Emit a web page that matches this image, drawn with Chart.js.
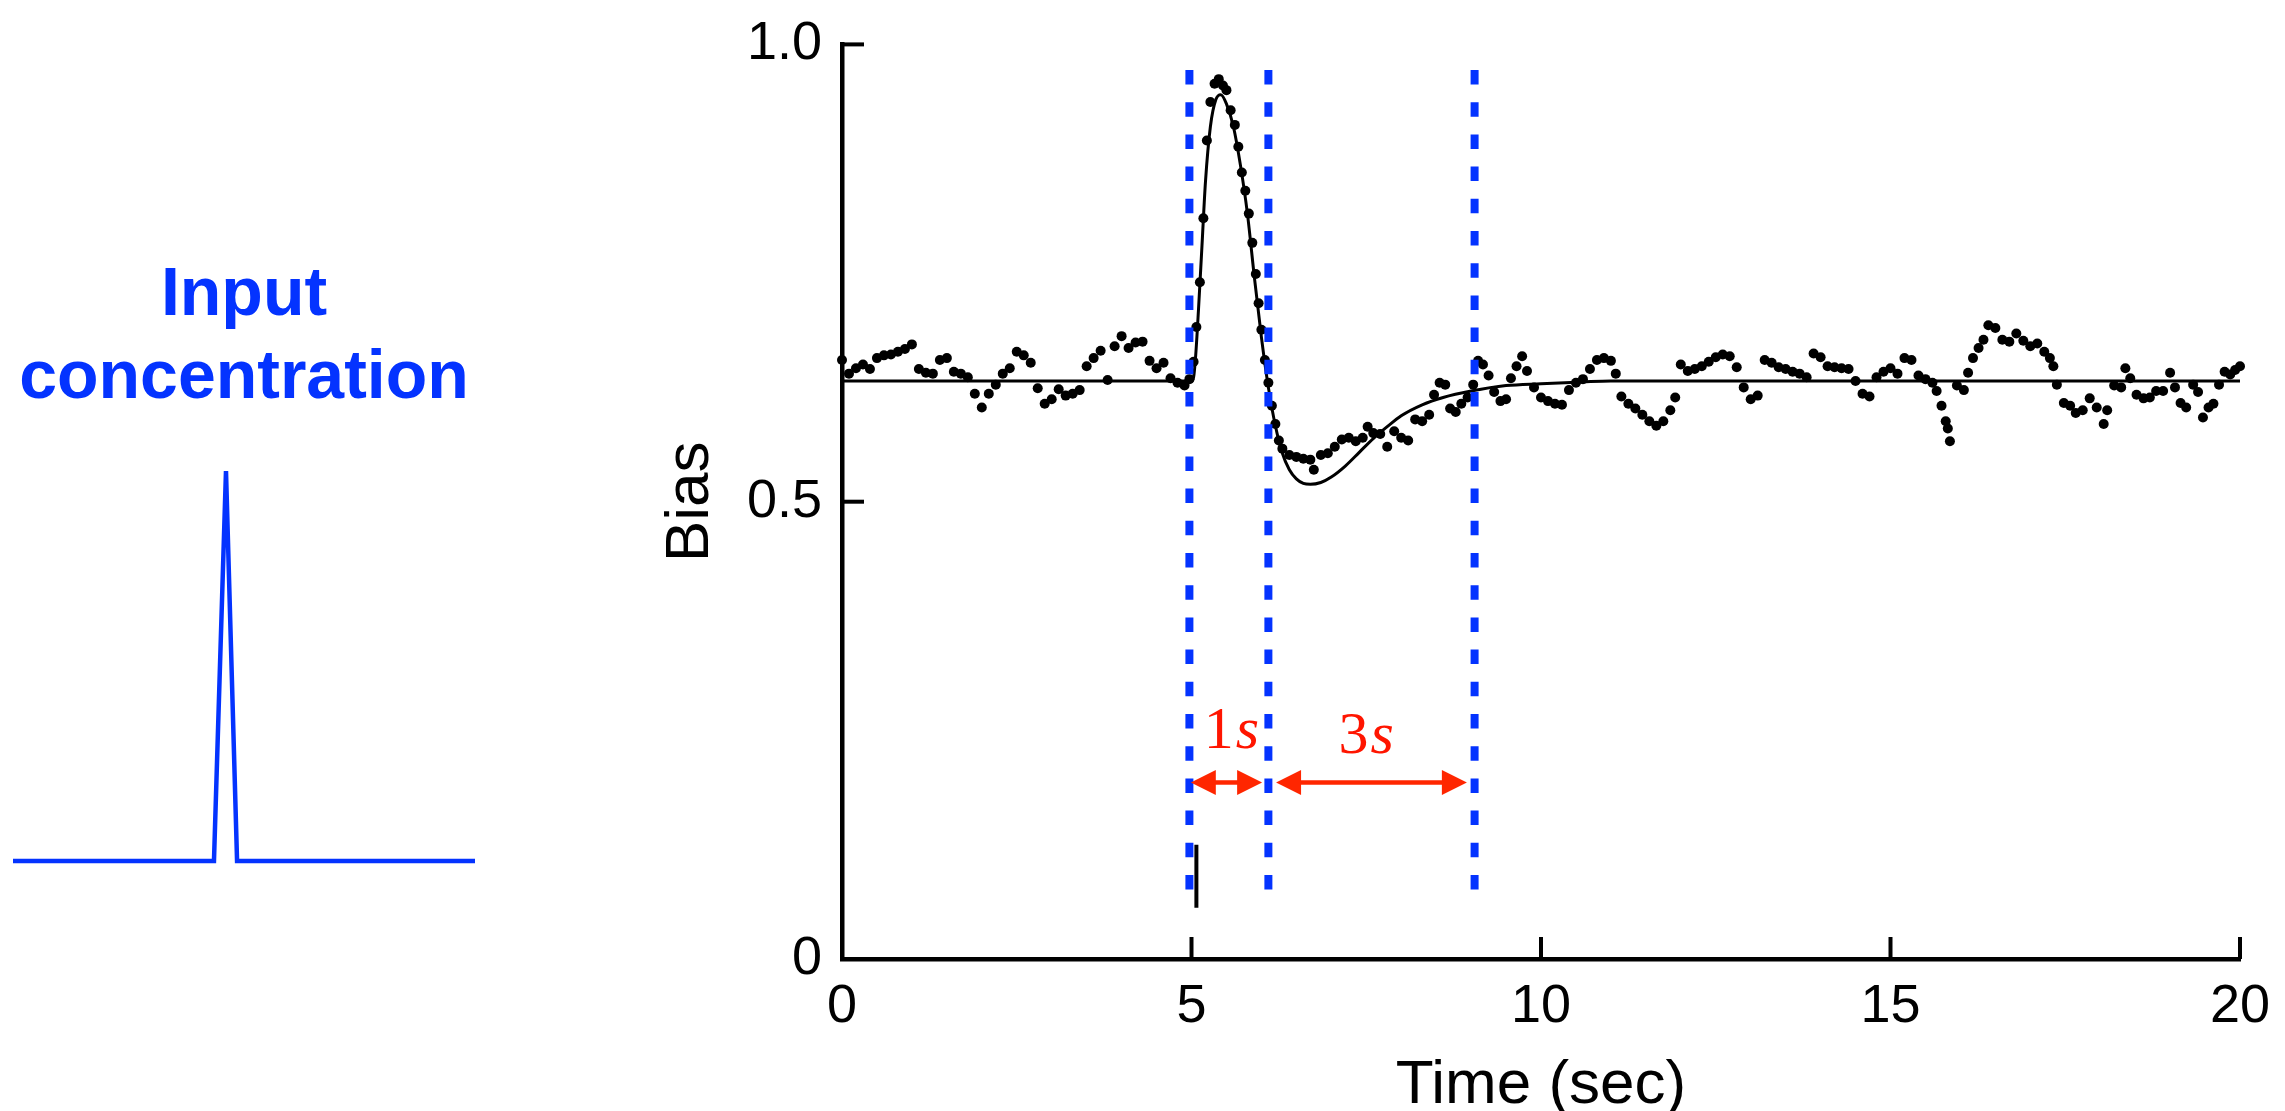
<!DOCTYPE html>
<html><head><meta charset="utf-8">
<script src="https://cdn.jsdelivr.net/npm/chart.js@4.4.1/dist/chart.umd.min.js"></script>
<style>
html,body{margin:0;padding:0;background:#fff;overflow:hidden;}
#wrap{position:relative;width:2285px;height:1111px;background:#fff;}
#main{position:absolute;left:0;top:0;}
#inputChart{position:absolute;left:0;top:0;}
#inputLabel{position:absolute;left:13px;width:462px;top:250px;text-align:center;font-family:'Liberation Sans',Arial,sans-serif;font-weight:bold;font-size:68px;line-height:83px;color:#0433ff;}
</style></head><body>
<div id="wrap">
<canvas id="main" width="2285" height="1111"></canvas>
<div id="inputLabel">Input<br>concentration</div>
<canvas id="inputChart" width="500" height="900"></canvas>
</div>
<script>
// ---- measured data (time in s, bias) ----
const dotTime = [0.00,0.10,0.20,0.30,0.40,0.50,0.60,0.70,0.80,0.90,1.00,1.10,1.20,1.30,1.40,1.50,1.60,1.70,1.80,1.90,
2.00,2.10,2.20,2.30,2.40,2.50,2.60,2.70,2.80,2.90,3.00,3.10,3.20,3.30,3.40,3.50,3.60,3.70,3.80,3.90,
4.00,4.10,4.20,4.30,4.40,4.50,4.60,4.70,4.80,4.90,4.97,5.03,5.07,5.12,5.17,5.22,5.27,5.33,5.39,5.45,
5.50,5.56,5.62,5.67,5.72,5.77,5.82,5.87,5.92,5.96,6.00,6.05,6.10,6.15,6.20,6.25,6.30,6.40,6.50,6.60,
6.70,6.75,6.85,6.95,7.05,7.15,7.25,7.35,7.45,7.52,7.60,7.70,7.80,7.90,8.00,8.10,8.20,8.30,8.40,8.47,
8.55,8.63,8.70,8.78,8.86,8.95,9.03,9.10,9.17,9.25,9.33,9.42,9.50,9.57,9.65,9.73,9.80,9.90,10.00,10.10,
10.20,10.30,10.40,10.50,10.60,10.70,10.80,10.90,11.00,11.07,11.15,11.25,11.35,11.45,11.55,11.65,11.75,11.85,11.92,12.00,
12.10,12.20,12.30,12.40,12.50,12.60,12.70,12.80,12.90,13.00,13.10,13.20,13.30,13.40,13.50,13.60,13.70,13.80,13.90,14.00,
14.10,14.20,14.30,14.40,14.50,14.60,14.70,14.80,14.90,15.00,15.10,15.20,15.30,15.40,15.50,15.60,15.66,15.73,15.79,15.82,
15.85,15.95,16.05,16.11,16.18,16.26,16.33,16.40,16.50,16.60,16.70,16.80,16.90,17.00,17.10,17.20,17.28,17.33,17.38,17.48,
17.57,17.65,17.75,17.85,17.95,18.05,18.10,18.20,18.30,18.36,18.43,18.52,18.62,18.71,18.80,18.90,19.00,19.07,19.15,19.23,
19.33,19.40,19.47,19.55,19.62,19.70,19.78,19.86,19.93,20.00];
const dotBias = [0.655,0.640,0.646,0.650,0.645,0.657,0.660,0.661,0.664,0.667,0.672,0.645,0.641,0.640,0.655,0.657,0.642,0.640,0.636,0.618,
0.603,0.618,0.628,0.640,0.646,0.664,0.660,0.652,0.624,0.607,0.612,0.623,0.616,0.618,0.622,0.648,0.657,0.665,0.633,0.670,
0.681,0.668,0.674,0.675,0.654,0.646,0.652,0.635,0.630,0.627,0.634,0.653,0.691,0.740,0.810,0.895,0.937,0.957,0.962,0.955,
0.950,0.928,0.912,0.888,0.860,0.840,0.815,0.783,0.749,0.717,0.688,0.655,0.630,0.605,0.585,0.567,0.558,0.551,0.549,0.547,
0.546,0.535,0.551,0.553,0.560,0.568,0.570,0.566,0.570,0.582,0.575,0.574,0.560,0.577,0.570,0.567,0.590,0.588,0.595,0.617,
0.630,0.628,0.602,0.598,0.607,0.614,0.628,0.654,0.650,0.638,0.620,0.610,0.612,0.635,0.648,0.659,0.643,0.625,0.614,0.610,
0.607,0.606,0.622,0.630,0.634,0.645,0.655,0.657,0.654,0.640,0.615,0.607,0.602,0.595,0.588,0.583,0.588,0.600,0.614,0.650,
0.643,0.645,0.648,0.653,0.658,0.661,0.659,0.647,0.625,0.612,0.616,0.655,0.652,0.647,0.645,0.642,0.640,0.636,0.662,0.658,
0.648,0.647,0.646,0.645,0.632,0.618,0.615,0.636,0.642,0.646,0.640,0.657,0.655,0.638,0.634,0.630,0.621,0.605,0.588,0.580,
0.566,0.627,0.622,0.641,0.657,0.668,0.677,0.693,0.690,0.677,0.675,0.684,0.676,0.670,0.673,0.664,0.657,0.648,0.628,0.608,
0.605,0.597,0.600,0.613,0.603,0.585,0.600,0.627,0.625,0.646,0.635,0.617,0.613,0.614,0.621,0.621,0.641,0.625,0.608,0.603,
0.628,0.620,0.592,0.603,0.607,0.628,0.642,0.639,0.644,0.648];

const fitTime = [0,5.00,5.03,5.06,5.10,5.15,5.20,5.27,5.35,5.42,5.50,5.60,5.70,5.80,5.90,6.00,6.10,6.20,6.30,6.40,6.50,6.60,6.70,6.85,7.00,7.20,7.40,7.60,7.80,8.00,8.30,8.60,9.00,9.50,10.00,10.60,11.00,20];
const fitBias = [0.632,0.632,0.636,0.660,0.710,0.780,0.850,0.910,0.940,0.945,0.935,0.910,0.868,0.815,0.745,0.680,0.625,0.583,0.553,0.535,0.525,0.520,0.519,0.521,0.527,0.539,0.554,0.569,0.582,0.594,0.606,0.614,0.621,0.627,0.629,0.631,0.632,0.632];

const markerTime = [4.97, 6.10, 9.05];      // blue dashed guides
const markerBias = [0.972, 0.06];           // top, bottom of guides
const stimTime = [5.07, 5.07];              // stimulus mark
const stimBias = [0.125, 0.056];
const arrowFrom = [4.99, 6.21];
const arrowTo = [6.01, 8.94];
const arrowBias = [0.193, 0.193];
const spanLabels = ['1s', '3s'];
const spanLabelTime = [5.57, 7.50];
const spanLabelBias = [0.231, 0.225];

const xTickValues = [0, 5, 10, 15, 20];
const xTickLabels = ['0', '5', '10', '15', '20'];
const yTickValues = [0, 0.5, 1.0];
const yTickLabels = ['0', '0.5', '1.0'];

const inputTime = [0, 8.70, 9.22, 9.70, 20];
const inputLevel = [0, 0, 1, 0, 0];

const BLUE = '#0433ff';
const RED = '#ff2600';
const SANS = "'Liberation Sans', Arial, Helvetica, sans-serif";
const SERIF = "'Liberation Serif', 'Times New Roman', serif";

const pts = (xs, ys) => xs.map((x, i) => ({x: x, y: ys[i]}));

const datasets = [
  {label: 'fit', data: pts(fitTime, fitBias), borderColor: '#000', borderWidth: 3, pointRadius: 0,
   cubicInterpolationMode: 'monotone', fill: false, order: 4, clip: false},
  {label: 'data', data: pts(dotTime, dotBias), showLine: false, pointRadius: 5, pointBorderWidth: 0,
   pointBackgroundColor: '#000', backgroundColor: '#000', borderColor: '#000', order: 3, clip: false},
  {label: 'stim', data: pts(stimTime, stimBias), borderColor: '#000', borderWidth: 4, pointRadius: 0, order: 2}
];
markerTime.forEach((t, i) => {
  datasets.push({label: 'guide' + i, data: pts([t, t], markerBias), borderColor: BLUE, borderWidth: 8,
    borderDash: [14.5, 17.7], borderCapStyle: 'butt', pointRadius: 0, order: 1});
});

const inwardTicks = {
  id: 'inwardTicks',
  afterDatasetsDraw(chart) {
    const {ctx, chartArea, scales} = chart;
    ctx.save();
    ctx.strokeStyle = '#000';
    ctx.lineWidth = 4;
    yTickValues.forEach(v => {
      if (v === 0) return;
      const py = scales.y.getPixelForValue(v);
      ctx.beginPath(); ctx.moveTo(chartArea.left, py); ctx.lineTo(chartArea.left + 22, py); ctx.stroke();
    });
    xTickValues.forEach(v => {
      if (v === 0) return;
      const px = scales.x.getPixelForValue(v);
      ctx.beginPath(); ctx.moveTo(px, chartArea.bottom); ctx.lineTo(px, chartArea.bottom - 22); ctx.stroke();
    });
    ctx.restore();
  }
};

const spanArrows = {
  id: 'spanArrows',
  afterDatasetsDraw(chart) {
    const {ctx, scales} = chart;
    ctx.save();
    arrowFrom.forEach((a, i) => {
      const x1 = scales.x.getPixelForValue(a);
      const x2 = scales.x.getPixelForValue(arrowTo[i]);
      const py = scales.y.getPixelForValue(arrowBias[i]);
      const head = 25, half = 12.5;
      ctx.strokeStyle = RED; ctx.fillStyle = RED; ctx.lineWidth = 4.5;
      ctx.beginPath(); ctx.moveTo(x1 + head - 2, py); ctx.lineTo(x2 - head + 2, py); ctx.stroke();
      ctx.beginPath(); ctx.moveTo(x1, py); ctx.lineTo(x1 + head, py - half); ctx.lineTo(x1 + head, py + half); ctx.closePath(); ctx.fill();
      ctx.beginPath(); ctx.moveTo(x2, py); ctx.lineTo(x2 - head, py - half); ctx.lineTo(x2 - head, py + half); ctx.closePath(); ctx.fill();
    });
    spanLabels.forEach((lab, i) => {
      const num = lab.slice(0, -1), unit = lab.slice(-1);
      const cx = scales.x.getPixelForValue(spanLabelTime[i]);
      const by = scales.y.getPixelForValue(spanLabelBias[i]);
      ctx.fillStyle = '#ff1500';
      ctx.textBaseline = 'alphabetic';
      ctx.textAlign = 'left';
      ctx.font = '60px ' + SERIF;
      const w1 = ctx.measureText(num).width;
      ctx.font = 'italic 60px ' + SERIF;
      const w2 = ctx.measureText(unit).width;
      const sx = cx - (w1 + w2 + 2) / 2;
      ctx.font = '60px ' + SERIF;
      ctx.fillText(num, sx, by);
      ctx.font = 'italic 60px ' + SERIF;
      ctx.fillText(unit, sx + w1 + 2, by);
    });
    ctx.restore();
  }
};

new Chart(document.getElementById('main'), {
  type: 'line',
  data: {datasets: datasets},
  options: {
    responsive: false,
    animation: false,
    devicePixelRatio: 1,
    layout: {padding: {left: 0, right: 45, top: 32, bottom: 0}},
    plugins: {legend: {display: false}, tooltip: {enabled: false}, title: {display: false}},
    scales: {
      x: {
        type: 'linear', min: 0, max: 20,
        grid: {display: false},
        border: {display: true, color: '#000', width: 4.5},
        afterBuildTicks: s => { s.ticks = xTickValues.map(v => ({value: v})); },
        afterFit: s => { s.height = 152; },
        ticks: {callback: (v, i) => xTickLabels[i], color: '#000', padding: 8, maxRotation: 0,
                font: {family: SANS, size: 54}},
        title: {display: true, text: 'Time (sec)', color: '#000', padding: {top: 0, bottom: 0},
                font: {family: SANS, size: 62, lineHeight: 0.8}}
      },
      y: {
        type: 'linear', min: 0, max: 1,
        grid: {display: false},
        border: {display: true, color: '#000', width: 4.5},
        afterBuildTicks: s => { s.ticks = yTickValues.map(v => ({value: v})); },
        afterFit: s => { s.width = 842; },
        ticks: {callback: (v, i) => yTickLabels[i], color: '#000', padding: 12,
                font: {family: SANS, size: 54}},
        title: {display: true, text: 'Bias', color: '#000', padding: {top: 666, bottom: 0},
                font: {family: SANS, size: 62, lineHeight: 0.8}}
      }
    }
  },
  plugins: [inwardTicks, spanArrows]
});

new Chart(document.getElementById('inputChart'), {
  type: 'line',
  data: {datasets: [{label: 'input', data: pts(inputTime, inputLevel), borderColor: BLUE, borderWidth: 4.5,
    pointRadius: 0, tension: 0, borderJoinStyle: 'miter', borderCapStyle: 'butt', clip: false}]},
  options: {
    responsive: false, animation: false, devicePixelRatio: 1,
    layout: {padding: {left: 13, right: 25, top: 471, bottom: 39}},
    plugins: {legend: {display: false}, tooltip: {enabled: false}},
    scales: {
      x: {type: 'linear', min: 0, max: 20, display: false},
      y: {type: 'linear', min: 0, max: 1, display: false}
    }
  }
});
</script>
</body></html>
